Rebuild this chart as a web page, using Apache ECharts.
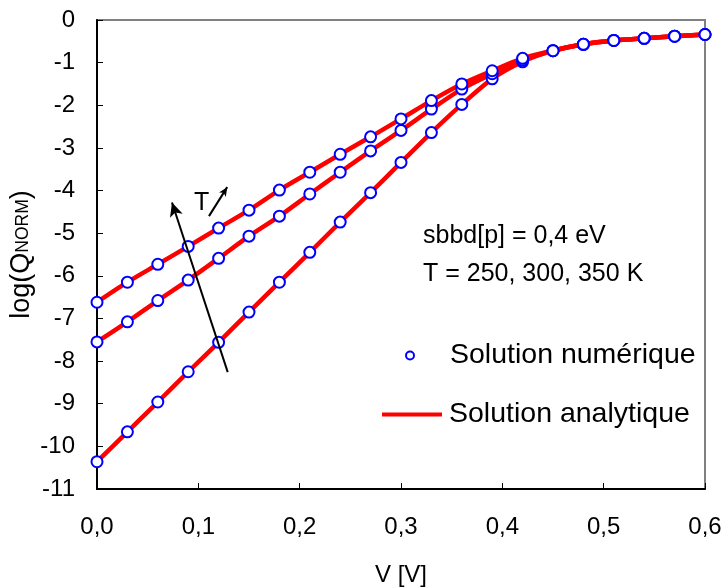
<!DOCTYPE html>
<html><head><meta charset="utf-8">
<script src="https://cdn.jsdelivr.net/npm/echarts@6/dist/echarts.min.js"></script>
<style>html,body{margin:0;padding:0;background:#fff}#c{width:723px;height:587px}</style>
</head><body><div id="c"></div>
<script>
const V = [0,0.03,0.06,0.09,0.12,0.15,0.18,0.21,0.24,0.27,0.30,0.33,0.36,0.39,0.42,0.45,0.48,0.51,0.54,0.57,0.60];
const q250 = [-10.36,-9.66,-8.96,-8.25,-7.56,-6.85,-6.15,-5.45,-4.74,-4.05,-3.34,-2.64,-1.98,-1.38,-0.98,-0.72,-0.57,-0.48,-0.43,-0.38,-0.34];
const q300 = [-7.55,-7.08,-6.58,-6.10,-5.59,-5.07,-4.60,-4.08,-3.57,-3.07,-2.59,-2.09,-1.62,-1.26,-0.94,-0.72,-0.57,-0.48,-0.43,-0.38,-0.34];
const q350 = [-6.62,-6.15,-5.73,-5.31,-4.88,-4.46,-3.99,-3.57,-3.15,-2.74,-2.32,-1.89,-1.50,-1.19,-0.90,-0.72,-0.57,-0.48,-0.43,-0.38,-0.34];
const xTickLabels = ['0,0','0,1','0,2','0,3','0,4','0,5','0,6'];
const yTickLabels = ['-11','-10','-9','-8','-7','-6','-5','-4','-3','-2','-1','0'];
const annot = ['sbbd[p] = 0,4 eV','T = 250, 300, 350 K'];
const NUM = 'Solution numérique', ANA = 'Solution analytique';

const FONT = 'Liberation Sans, Arial, sans-serif';
const pair = (ys) => V.map((x, i) => [x, ys[i]]);
const lineS = (ys) => ({
  name: ANA, type: 'line', data: pair(ys), smooth: 0.3, symbol: 'none',
  lineStyle: {color: '#ff0000', width: 4.5}, itemStyle: {color: '#ff0000'}, z: 2
});
const scatS = (ys) => ({
  name: NUM, type: 'scatter', data: pair(ys), symbol: 'circle', symbolSize: 11,
  itemStyle: {color: '#ffffff', borderColor: '#0000ff', borderWidth: 2, opacity: 1}, z: 3
});
const series = [lineS(q250), lineS(q300), lineS(q350), scatS(q250), scatS(q300), scatS(q350)];
series[0].markLine = {
  silent: true, animation: false, label: {show: false},
  lineStyle: {color: '#000', width: 2, type: 'solid'},
  symbol: ['none', 'arrow'], symbolSize: [10, 14],
  data: [
    [{coord: [0.129, -8.26]}, {coord: [0.074, -4.28]}],
    [{coord: [0.1105, -4.60]}, {coord: [0.1285, -3.92]}]
  ]
};
series[0].markLine.data[1][1].symbolSize = [6, 9];

const chart = echarts.init(document.getElementById('c'));
chart.setOption({
  animation: false,
  grid: {left: 97, right: 18, top: 20, bottom: 98, containLabel: false, outerBoundsMode: 'none',
         show: true, borderColor: '#808080', borderWidth: 2, backgroundColor: 'transparent'},
  xAxis: {
    type: 'value', min: 0, max: 0.6, interval: 0.1,
    name: 'V [V]', nameLocation: 'middle', nameGap: 74, nameMoveOverlap: false,
    nameTextStyle: {fontFamily: FONT, fontSize: 24, color: '#000'},
    axisLine: {show: true, onZero: false, lineStyle: {color: '#000', width: 2}},
    axisTick: {show: true, inside: true, length: 6, lineStyle: {color: '#000', width: 1}},
    axisLabel: {fontFamily: FONT, fontSize: 24, color: '#000', margin: 26,
      formatter: v => xTickLabels[Math.round(v * 10)]},
    splitLine: {show: false}
  },
  yAxis: {
    type: 'value', min: -11, max: 0, interval: 1,
    name: '{a|log(Q}{b|NORM}{a|)}', nameLocation: 'middle', nameGap: 62, nameMoveOverlap: false,
    nameTextStyle: {fontFamily: FONT, color: '#000',
      rich: {a: {fontFamily: FONT, fontSize: 27, color: '#000'},
             b: {fontFamily: FONT, fontSize: 17.5, color: '#000', padding: [3, 0, 0, 0]}}},
    axisLine: {show: true, onZero: false, lineStyle: {color: '#000', width: 2}},
    axisTick: {show: true, inside: true, length: 6, lineStyle: {color: '#000', width: 1}},
    axisLabel: {fontFamily: FONT, fontSize: 24, color: '#000', margin: 22,
      formatter: v => yTickLabels[Math.round(v + 11)]},
    splitLine: {show: false}
  },
  legend: [
    {data: [{name: NUM, icon: 'circle'}], left: 405, top: 341, padding: 0, orient: 'vertical', itemWidth: 8, itemHeight: 8, itemGap: 0,
     itemStyle: {color: '#ffffff', borderColor: '#0000ff', borderWidth: 2},
     textStyle: {fontFamily: FONT, fontSize: 28.5, color: '#000', padding: [0, 0, 0, 31]}, selectedMode: false},
    {data: [{name: ANA, icon: 'rect'}], left: 382, top: 400, padding: 0, orient: 'vertical', itemWidth: 60, itemHeight: 4, itemGap: 0,
     itemStyle: {color: '#ff0000', borderWidth: 0},
     textStyle: {fontFamily: FONT, fontSize: 28.5, color: '#000', padding: [0, 0, 0, 2]}, selectedMode: false}
  ],
  graphic: [
    {type: 'text', left: 423, top: 224, style: {text: annot[0], font: '25px ' + FONT, fill: '#000'}},
    {type: 'text', left: 423, top: 262, style: {text: annot[1], font: '25px ' + FONT, fill: '#000'}},
    {type: 'text', left: 194, top: 191, style: {text: 'T', font: '25px ' + FONT, fill: '#000'}}
  ],
  series: series
});
</script></body></html>
